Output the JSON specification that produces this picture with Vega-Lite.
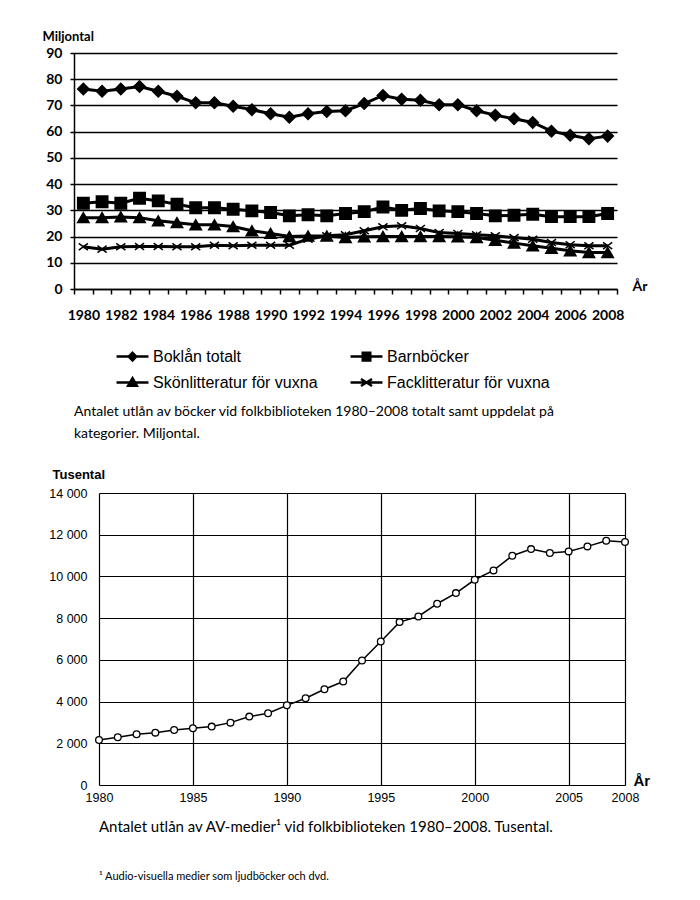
{
  "$schema": "https://vega.github.io/schema/vega-lite/v6.json",
  "background": "white",
  "padding": {"left": 42, "top": 30, "right": 5, "bottom": 5},
  "config": {"view": {"stroke": null}, "font": "Lato"},
  "spacing": 27,
  "datasets": {
    "books": [
      {"year": 1980, "series": "Boklån totalt", "value": 76.3},
      {"year": 1981, "series": "Boklån totalt", "value": 75.4},
      {"year": 1982, "series": "Boklån totalt", "value": 76.3},
      {"year": 1983, "series": "Boklån totalt", "value": 77.2},
      {"year": 1984, "series": "Boklån totalt", "value": 75.4},
      {"year": 1985, "series": "Boklån totalt", "value": 73.5},
      {"year": 1986, "series": "Boklån totalt", "value": 71.0},
      {"year": 1987, "series": "Boklån totalt", "value": 71.0},
      {"year": 1988, "series": "Boklån totalt", "value": 69.7},
      {"year": 1989, "series": "Boklån totalt", "value": 68.4},
      {"year": 1990, "series": "Boklån totalt", "value": 66.8},
      {"year": 1991, "series": "Boklån totalt", "value": 65.5},
      {"year": 1992, "series": "Boklån totalt", "value": 66.8},
      {"year": 1993, "series": "Boklån totalt", "value": 67.7},
      {"year": 1994, "series": "Boklån totalt", "value": 68.0},
      {"year": 1995, "series": "Boklån totalt", "value": 70.7},
      {"year": 1996, "series": "Boklån totalt", "value": 73.8},
      {"year": 1997, "series": "Boklån totalt", "value": 72.4},
      {"year": 1998, "series": "Boklån totalt", "value": 72.0},
      {"year": 1999, "series": "Boklån totalt", "value": 70.3},
      {"year": 2000, "series": "Boklån totalt", "value": 70.3},
      {"year": 2001, "series": "Boklån totalt", "value": 68.0},
      {"year": 2002, "series": "Boklån totalt", "value": 66.3},
      {"year": 2003, "series": "Boklån totalt", "value": 64.9},
      {"year": 2004, "series": "Boklån totalt", "value": 63.5},
      {"year": 2005, "series": "Boklån totalt", "value": 60.2},
      {"year": 2006, "series": "Boklån totalt", "value": 58.6},
      {"year": 2007, "series": "Boklån totalt", "value": 57.3},
      {"year": 2008, "series": "Boklån totalt", "value": 58.3},
      {"year": 1980, "series": "Barnböcker", "value": 32.7},
      {"year": 1981, "series": "Barnböcker", "value": 33.3},
      {"year": 1982, "series": "Barnböcker", "value": 32.7},
      {"year": 1983, "series": "Barnböcker", "value": 34.6},
      {"year": 1984, "series": "Barnböcker", "value": 33.6},
      {"year": 1985, "series": "Barnböcker", "value": 32.3},
      {"year": 1986, "series": "Barnböcker", "value": 31.0},
      {"year": 1987, "series": "Barnböcker", "value": 31.0},
      {"year": 1988, "series": "Barnböcker", "value": 30.4},
      {"year": 1989, "series": "Barnböcker", "value": 29.8},
      {"year": 1990, "series": "Barnböcker", "value": 29.2},
      {"year": 1991, "series": "Barnböcker", "value": 27.9},
      {"year": 1992, "series": "Barnböcker", "value": 28.3},
      {"year": 1993, "series": "Barnböcker", "value": 27.9},
      {"year": 1994, "series": "Barnböcker", "value": 28.8},
      {"year": 1995, "series": "Barnböcker", "value": 29.5},
      {"year": 1996, "series": "Barnböcker", "value": 31.3},
      {"year": 1997, "series": "Barnböcker", "value": 30.0},
      {"year": 1998, "series": "Barnböcker", "value": 30.7},
      {"year": 1999, "series": "Barnböcker", "value": 29.8},
      {"year": 2000, "series": "Barnböcker", "value": 29.5},
      {"year": 2001, "series": "Barnböcker", "value": 28.8},
      {"year": 2002, "series": "Barnböcker", "value": 27.9},
      {"year": 2003, "series": "Barnböcker", "value": 28.1},
      {"year": 2004, "series": "Barnböcker", "value": 28.5},
      {"year": 2005, "series": "Barnböcker", "value": 27.6},
      {"year": 2006, "series": "Barnböcker", "value": 27.6},
      {"year": 2007, "series": "Barnböcker", "value": 27.6},
      {"year": 2008, "series": "Barnböcker", "value": 28.8},
      {"year": 1980, "series": "Skönlitteratur för vuxna", "value": 27.2},
      {"year": 1981, "series": "Skönlitteratur för vuxna", "value": 27.2},
      {"year": 1982, "series": "Skönlitteratur för vuxna", "value": 27.5},
      {"year": 1983, "series": "Skönlitteratur för vuxna", "value": 27.2},
      {"year": 1984, "series": "Skönlitteratur för vuxna", "value": 26.0},
      {"year": 1985, "series": "Skönlitteratur för vuxna", "value": 25.3},
      {"year": 1986, "series": "Skönlitteratur för vuxna", "value": 24.5},
      {"year": 1987, "series": "Skönlitteratur för vuxna", "value": 24.5},
      {"year": 1988, "series": "Skönlitteratur för vuxna", "value": 23.8},
      {"year": 1989, "series": "Skönlitteratur för vuxna", "value": 22.2},
      {"year": 1990, "series": "Skönlitteratur för vuxna", "value": 21.2},
      {"year": 1991, "series": "Skönlitteratur för vuxna", "value": 20.0},
      {"year": 1992, "series": "Skönlitteratur för vuxna", "value": 20.2},
      {"year": 1993, "series": "Skönlitteratur för vuxna", "value": 20.2},
      {"year": 1994, "series": "Skönlitteratur för vuxna", "value": 19.6},
      {"year": 1995, "series": "Skönlitteratur för vuxna", "value": 19.9},
      {"year": 1996, "series": "Skönlitteratur för vuxna", "value": 20.0},
      {"year": 1997, "series": "Skönlitteratur för vuxna", "value": 20.0},
      {"year": 1998, "series": "Skönlitteratur för vuxna", "value": 20.0},
      {"year": 1999, "series": "Skönlitteratur för vuxna", "value": 20.0},
      {"year": 2000, "series": "Skönlitteratur för vuxna", "value": 19.9},
      {"year": 2001, "series": "Skönlitteratur för vuxna", "value": 19.6},
      {"year": 2002, "series": "Skönlitteratur för vuxna", "value": 18.6},
      {"year": 2003, "series": "Skönlitteratur för vuxna", "value": 17.5},
      {"year": 2004, "series": "Skönlitteratur för vuxna", "value": 16.5},
      {"year": 2005, "series": "Skönlitteratur för vuxna", "value": 15.5},
      {"year": 2006, "series": "Skönlitteratur för vuxna", "value": 14.6},
      {"year": 2007, "series": "Skönlitteratur för vuxna", "value": 13.9},
      {"year": 2008, "series": "Skönlitteratur för vuxna", "value": 13.9},
      {"year": 1980, "series": "Facklitteratur för vuxna", "value": 16.1},
      {"year": 1981, "series": "Facklitteratur för vuxna", "value": 15.2},
      {"year": 1982, "series": "Facklitteratur för vuxna", "value": 16.1},
      {"year": 1983, "series": "Facklitteratur för vuxna", "value": 16.2},
      {"year": 1984, "series": "Facklitteratur för vuxna", "value": 16.2},
      {"year": 1985, "series": "Facklitteratur för vuxna", "value": 16.1},
      {"year": 1986, "series": "Facklitteratur för vuxna", "value": 16.1},
      {"year": 1987, "series": "Facklitteratur för vuxna", "value": 16.7},
      {"year": 1988, "series": "Facklitteratur för vuxna", "value": 16.5},
      {"year": 1989, "series": "Facklitteratur för vuxna", "value": 16.7},
      {"year": 1990, "series": "Facklitteratur för vuxna", "value": 16.7},
      {"year": 1991, "series": "Facklitteratur för vuxna", "value": 16.7},
      {"year": 1992, "series": "Facklitteratur för vuxna", "value": 19.0},
      {"year": 1993, "series": "Facklitteratur för vuxna", "value": 20.3},
      {"year": 1994, "series": "Facklitteratur för vuxna", "value": 20.7},
      {"year": 1995, "series": "Facklitteratur för vuxna", "value": 22.2},
      {"year": 1996, "series": "Facklitteratur för vuxna", "value": 23.7},
      {"year": 1997, "series": "Facklitteratur för vuxna", "value": 24.1},
      {"year": 1998, "series": "Facklitteratur för vuxna", "value": 23.1},
      {"year": 1999, "series": "Facklitteratur för vuxna", "value": 21.5},
      {"year": 2000, "series": "Facklitteratur för vuxna", "value": 21.2},
      {"year": 2001, "series": "Facklitteratur för vuxna", "value": 20.7},
      {"year": 2002, "series": "Facklitteratur för vuxna", "value": 20.3},
      {"year": 2003, "series": "Facklitteratur för vuxna", "value": 19.6},
      {"year": 2004, "series": "Facklitteratur för vuxna", "value": 19.0},
      {"year": 2005, "series": "Facklitteratur för vuxna", "value": 17.7},
      {"year": 2006, "series": "Facklitteratur för vuxna", "value": 16.9},
      {"year": 2007, "series": "Facklitteratur för vuxna", "value": 16.5},
      {"year": 2008, "series": "Facklitteratur för vuxna", "value": 16.5}
    ],
    "av": [
      {"year": 1980, "loans": 2160},
      {"year": 1981, "loans": 2290},
      {"year": 1982, "loans": 2430},
      {"year": 1983, "loans": 2510},
      {"year": 1984, "loans": 2640},
      {"year": 1985, "loans": 2720},
      {"year": 1986, "loans": 2800},
      {"year": 1987, "loans": 2990},
      {"year": 1988, "loans": 3280},
      {"year": 1989, "loans": 3440},
      {"year": 1990, "loans": 3820},
      {"year": 1991, "loans": 4160},
      {"year": 1992, "loans": 4590},
      {"year": 1993, "loans": 4960},
      {"year": 1994, "loans": 5970},
      {"year": 1995, "loans": 6880},
      {"year": 1996, "loans": 7810},
      {"year": 1997, "loans": 8080},
      {"year": 1998, "loans": 8690},
      {"year": 1999, "loans": 9200},
      {"year": 2000, "loans": 9840},
      {"year": 2001, "loans": 10290},
      {"year": 2002, "loans": 10990},
      {"year": 2003, "loans": 11310},
      {"year": 2004, "loans": 11120},
      {"year": 2005, "loans": 11200},
      {"year": 2006, "loans": 11440},
      {"year": 2007, "loans": 11710},
      {"year": 2008, "loans": 11650}
    ]
  },
  "vconcat": [
    {
      "data": {"name": "books"},
      "width": 543,
      "height": 236,
      "title": {
        "text": ["Antalet utlån av böcker vid folkbiblioteken 1980–2008 totalt samt uppdelat på", "kategorier. Miljontal."],
        "orient": "bottom",
        "anchor": "start",
        "frame": "group",
        "font": "Lato",
        "fontSize": 14,
        "fontWeight": "normal",
        "color": "black",
        "lineHeight": 22,
        "offset": 83,
        "dx": 0
      },
      "encoding": {
        "x": {
          "field": "year",
          "type": "ordinal",
          "scale": {"type": "band", "paddingInner": 0, "paddingOuter": 0},
          "axis": {
            "title": "År",
            "titleX": 558,
            "titleY": 1,
            "titleAlign": "left",
            "titleBaseline": "alphabetic",
            "titleFont": "Lato",
            "titleFontSize": 14,
            "titleFontWeight": "bold",
            "titleColor": "black",
            "labelAngle": 0,
            "labelExpr": "datum.value % 2 == 0 ? datum.label : ''",
            "labelOverlap": false,
            "tickBand": "extent",
            "tickSize": 5,
            "tickColor": "black",
            "tickWidth": 1.5,
            "domainColor": "black",
            "domainWidth": 1.5,
            "labelPadding": 14,
            "labelFont": "Lato",
            "labelFontSize": 14,
            "labelFontWeight": "bold",
            "labelColor": "black",
            "grid": false
          }
        },
        "y": {
          "field": "value",
          "type": "quantitative",
          "scale": {"domain": [0, 90]},
          "axis": {
            "title": "Miljontal",
            "titleAngle": 0,
            "titleX": -32,
            "titleY": -13,
            "titleAlign": "left",
            "titleBaseline": "alphabetic",
            "titleFont": "Lato",
            "titleFontSize": 13,
            "titleFontWeight": "bold",
            "titleColor": "black",
            "values": [0, 10, 20, 30, 40, 50, 60, 70, 80, 90],
            "grid": true,
            "gridColor": "black",
            "gridWidth": 1.5,
            "gridOpacity": 1,
            "domainColor": "black",
            "domainWidth": 1.5,
            "tickColor": "black",
            "tickWidth": 1.5,
            "tickSize": 4,
            "labelPadding": 8,
            "labelFont": "Lato",
            "labelFontSize": 14,
            "labelFontWeight": "bold",
            "labelColor": "black"
          }
        }
      },
      "layer": [
        {
          "mark": {"type": "line", "color": "black", "strokeWidth": 3},
          "encoding": {"detail": {"field": "series", "type": "nominal"}}
        },
        {
          "mark": {"type": "point", "filled": true, "stroke": "black", "strokeWidth": 1.5, "size": 130, "opacity": 1},
          "encoding": {
            "shape": {
              "field": "series",
              "type": "nominal",
              "scale": {
                "domain": ["Barnböcker", "Boklån totalt", "Facklitteratur för vuxna", "Skönlitteratur för vuxna"],
                "range": ["square", "diamond", "M-0.8,-0.6L0.8,0.6M-0.8,0.6L0.8,-0.6", "triangle-up"]
              },
              "legend": null
            },
            "color": {
              "field": "series",
              "type": "nominal",
              "scale": {
                "domain": ["Boklån totalt", "Barnböcker", "Skönlitteratur för vuxna", "Facklitteratur för vuxna"],
                "range": ["black", "black", "black", "black"]
              },
              "legend": {
                "title": null,
                "orient": "none",
                "legendX": 42.5,
                "legendY": 287.5,
                "columns": 2,
                "direction": "horizontal",
                "symbolSize": 841,
                "symbolType": {"expr": "datum.value === 'Boklån totalt' ? 'M-1.1,0L1.1,0M0,-0.26L0.26,0L0,0.26L-0.26,0Z' : datum.value === 'Barnböcker' ? 'M-1.1,0L1.1,0M-0.26,-0.26L0.26,-0.26L0.26,0.26L-0.26,0.26Z' : datum.value === 'Skönlitteratur för vuxna' ? 'M-1.1,0L1.1,0M0,-0.3L0.3,0.22L-0.3,0.22Z' : 'M-1.1,0L1.1,0M-0.38,-0.24L0.38,0.24M-0.38,0.24L0.38,-0.24'"},
                "symbolStrokeWidth": 2.5,
                "symbolStrokeColor": "black",
                "symbolFillColor": "black",
                "symbolOpacity": 1,
                "labelFont": "Liberation Sans",
                "labelFontSize": 16,
                "labelColor": "black",
                "labelLimit": 300,
                "labelOffset": 4.5,
                "columnPadding": 27,
                "rowPadding": 1
              }
            }
          }
        }
      ]
    },
    {
      "data": {"name": "av"},
      "width": 551,
      "height": 292,
      "title": {
        "text": "Antalet utlån av AV-medier¹ vid folkbiblioteken 1980–2008. Tusental.",
        "subtitle": "¹ Audio-visuella medier som ljudböcker och dvd.",
        "orient": "bottom",
        "anchor": "start",
        "frame": "group",
        "font": "Lato",
        "fontSize": 15,
        "fontWeight": "normal",
        "color": "black",
        "subtitleFont": "Lato",
        "subtitleFontSize": 11,
        "subtitleColor": "black",
        "subtitlePadding": 36,
        "offset": 16,
        "dx": 25
      },
      "encoding": {
        "x": {
          "field": "year",
          "type": "quantitative",
          "scale": {"domain": [1980, 2008], "nice": false, "zero": false, "range": [25, 551]},
          "axis": {
            "title": "År",
            "titleX": 559,
            "titleY": 0,
            "titleAlign": "left",
            "titleBaseline": "alphabetic",
            "titleFont": "Liberation Sans",
            "titleFontSize": 15,
            "titleFontWeight": "bold",
            "titleColor": "black",
            "values": [1980, 1985, 1990, 1995, 2000, 2005, 2008],
            "format": "d",
            "grid": true,
            "gridColor": "black",
            "gridWidth": 1.2,
            "gridOpacity": 1,
            "ticks": false,
            "domain": false,
            "labelPadding": 6,
            "labelFont": "Liberation Sans",
            "labelFontSize": 12.5,
            "labelColor": "black",
            "labelFlush": false
          }
        },
        "y": {
          "field": "loans",
          "type": "quantitative",
          "scale": {"domain": [0, 14000]},
          "axis": {
            "offset": -25,
            "title": "Tusental",
            "titleAngle": 0,
            "titleX": -47,
            "titleY": -15,
            "titleAlign": "left",
            "titleBaseline": "alphabetic",
            "titleFont": "Liberation Sans",
            "titleFontSize": 13,
            "titleFontWeight": "bold",
            "titleColor": "black",
            "values": [0, 2000, 4000, 6000, 8000, 10000, 12000, 14000],
            "labelExpr": "replace(format(datum.value, ','), ',', ' ')",
            "grid": true,
            "gridColor": "black",
            "gridWidth": 1.2,
            "gridOpacity": 1,
            "ticks": false,
            "domain": false,
            "labelPadding": 12,
            "labelFont": "Liberation Sans",
            "labelFontSize": 12.5,
            "labelColor": "black"
          }
        }
      },
      "layer": [
        {"mark": {"type": "line", "color": "black", "strokeWidth": 1.5}, "encoding": {}},
        {"mark": {"type": "point", "shape": "circle", "filled": true, "fill": "white", "stroke": "black", "strokeWidth": 1.3, "size": 45, "opacity": 1}, "encoding": {}}
      ]
    }
  ]
}
